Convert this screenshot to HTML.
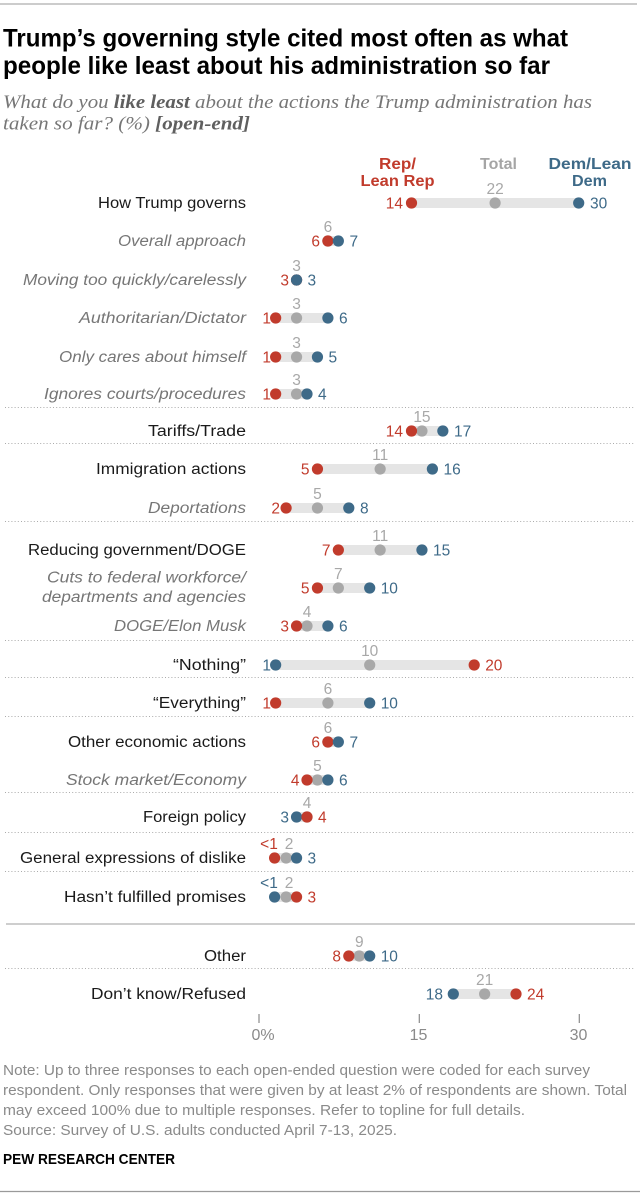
<!DOCTYPE html>
<html>
<head>
<meta charset="utf-8">
<style>
html,body{margin:0;padding:0;background:#fff;}
svg{display:block;}
.lab{font-family:"Liberation Sans",sans-serif;font-size:15.5px;fill:#1a1a1a;}
.sub{font-family:"Liberation Sans",sans-serif;font-size:15.5px;font-style:italic;fill:#767676;}
.num{font-family:"Liberation Sans",sans-serif;font-size:15.5px;}
.r{fill:#c13b2c;}
.b{fill:#3e6a88;}
.g{fill:#a8a8a8;}
.hd{font-family:"Liberation Sans",sans-serif;font-size:16px;font-weight:bold;}
.note{font-family:"Liberation Sans",sans-serif;font-size:14.5px;fill:#8a8a8a;}
.ax{font-family:"Liberation Sans",sans-serif;font-size:16px;fill:#8a8a8a;}
</style>
</head>
<body>
<svg width="640" height="1194" viewBox="0 0 640 1194" xmlns="http://www.w3.org/2000/svg">
<rect width="640" height="1194" fill="#fff"/>
<line x1="0" y1="4" x2="637" y2="4" stroke="#cccccc" stroke-width="2"/>

<!-- Title -->
<text x="3" y="46.5" font-family="Liberation Sans, sans-serif" font-size="25" font-weight="bold" fill="#000" textLength="565" lengthAdjust="spacingAndGlyphs">Trump’s governing style cited most often as what</text>
<text x="3" y="74" font-family="Liberation Sans, sans-serif" font-size="25" font-weight="bold" fill="#000" textLength="547" lengthAdjust="spacingAndGlyphs">people like least about his administration so far</text>

<!-- Subtitle -->
<text x="3" y="108" font-family="Liberation Serif, serif" font-size="18.5" font-style="italic" fill="#767676" textLength="589" lengthAdjust="spacingAndGlyphs">What do you <tspan font-weight="bold" fill="#5f5f5f">like least</tspan> about the actions the Trump administration has</text>
<text x="3" y="129.5" font-family="Liberation Serif, serif" font-size="18.5" font-style="italic" fill="#767676" textLength="247" lengthAdjust="spacingAndGlyphs">taken so far? (%) <tspan font-weight="bold" fill="#5f5f5f">[open-end]</tspan></text>

<!-- Headers -->
<text class="hd r" x="397.5" y="169" text-anchor="middle" textLength="37" lengthAdjust="spacingAndGlyphs">Rep/</text>
<text class="hd r" x="397.5" y="186" text-anchor="middle" textLength="74" lengthAdjust="spacingAndGlyphs">Lean Rep</text>
<text class="hd g" x="498.5" y="169" text-anchor="middle" textLength="37" lengthAdjust="spacingAndGlyphs" style="fill:#a5a5a5">Total</text>
<text class="hd b" x="590" y="169" text-anchor="middle" textLength="83" lengthAdjust="spacingAndGlyphs">Dem/Lean</text>
<text class="hd b" x="589.5" y="186" text-anchor="middle" textLength="35" lengthAdjust="spacingAndGlyphs">Dem</text>

<!-- Separators -->
<g stroke="#ababab" stroke-width="1.1" stroke-dasharray="1 2.2">
<line x1="5" y1="407.5" x2="635" y2="407.5"/>
<line x1="5" y1="443.5" x2="635" y2="443.5"/>
<line x1="5" y1="521.5" x2="635" y2="521.5"/>
<line x1="5" y1="640.5" x2="635" y2="640.5"/>
<line x1="5" y1="677.5" x2="635" y2="677.5"/>
<line x1="5" y1="716.5" x2="635" y2="716.5"/>
<line x1="5" y1="792.5" x2="635" y2="792.5"/>
<line x1="5" y1="832.5" x2="635" y2="832.5"/>
<line x1="5" y1="871.5" x2="635" y2="871.5"/>
<line x1="5" y1="968.5" x2="635" y2="968.5"/>
</g>
<line x1="6" y1="924" x2="635" y2="924" stroke="#bdbdbd" stroke-width="1.5"/>

<!-- Labels -->
<g text-anchor="end">
<text class="lab" x="246" y="208" textLength="148" lengthAdjust="spacingAndGlyphs">How Trump governs</text>
<text class="sub" x="246" y="246" textLength="128" lengthAdjust="spacingAndGlyphs">Overall approach</text>
<text class="sub" x="246" y="285" textLength="223" lengthAdjust="spacingAndGlyphs">Moving too quickly/carelessly</text>
<text class="sub" x="246" y="323" textLength="167" lengthAdjust="spacingAndGlyphs">Authoritarian/Dictator</text>
<text class="sub" x="246" y="362" textLength="187" lengthAdjust="spacingAndGlyphs">Only cares about himself</text>
<text class="sub" x="246" y="399" textLength="202" lengthAdjust="spacingAndGlyphs">Ignores courts/procedures</text>
<text class="lab" x="246" y="436" textLength="98" lengthAdjust="spacingAndGlyphs">Tariffs/Trade</text>
<text class="lab" x="246" y="474" textLength="150" lengthAdjust="spacingAndGlyphs">Immigration actions</text>
<text class="sub" x="246" y="513" textLength="98" lengthAdjust="spacingAndGlyphs">Deportations</text>
<text class="lab" x="246" y="555" textLength="218" lengthAdjust="spacingAndGlyphs">Reducing government/DOGE</text>
<text class="sub" x="246" y="582.5" textLength="199" lengthAdjust="spacingAndGlyphs">Cuts to federal workforce/</text>
<text class="sub" x="246" y="602" textLength="204" lengthAdjust="spacingAndGlyphs">departments and agencies</text>
<text class="sub" x="246" y="631" textLength="132" lengthAdjust="spacingAndGlyphs">DOGE/Elon Musk</text>
<text class="lab" x="246" y="670" textLength="73" lengthAdjust="spacingAndGlyphs">“Nothing”</text>
<text class="lab" x="246" y="708" textLength="93" lengthAdjust="spacingAndGlyphs">“Everything”</text>
<text class="lab" x="246" y="747" textLength="178" lengthAdjust="spacingAndGlyphs">Other economic actions</text>
<text class="sub" x="246" y="785" textLength="180" lengthAdjust="spacingAndGlyphs">Stock market/Economy</text>
<text class="lab" x="246" y="822" textLength="103" lengthAdjust="spacingAndGlyphs">Foreign policy</text>
<text class="lab" x="246" y="863" textLength="226" lengthAdjust="spacingAndGlyphs">General expressions of dislike</text>
<text class="lab" x="246" y="902" textLength="182" lengthAdjust="spacingAndGlyphs">Hasn’t fulfilled promises</text>
<text class="lab" x="246" y="961" textLength="42" lengthAdjust="spacingAndGlyphs">Other</text>
<text class="lab" x="246" y="999" textLength="155" lengthAdjust="spacingAndGlyphs">Don’t know/Refused</text>
</g>

<!-- Bars -->
<g fill="#e5e5e5">
<rect x="411.5" y="198" width="167.2" height="10"/>
<rect x="327.9" y="236" width="10.45" height="10"/>
<rect x="275.65" y="313" width="52.25" height="10"/>
<rect x="275.65" y="352" width="41.8" height="10"/>
<rect x="275.65" y="389" width="31.35" height="10"/>
<rect x="411.5" y="426" width="31.35" height="10"/>
<rect x="317.45" y="464" width="114.95" height="10"/>
<rect x="286.1" y="503" width="62.7" height="10"/>
<rect x="338.35" y="545" width="83.6" height="10"/>
<rect x="317.45" y="583" width="52.25" height="10"/>
<rect x="296.55" y="621" width="31.35" height="10"/>
<rect x="275.65" y="660" width="198.55" height="10"/>
<rect x="275.65" y="698" width="94.05" height="10"/>
<rect x="327.9" y="737" width="10.45" height="10"/>
<rect x="307" y="775" width="20.9" height="10"/>
<rect x="296.55" y="812" width="10.45" height="10"/>
<rect x="274.6" y="853" width="21.95" height="10"/>
<rect x="274.6" y="892" width="21.95" height="10"/>
<rect x="348.8" y="951" width="20.9" height="10"/>
<rect x="453.3" y="989" width="62.7" height="10"/>
</g>

<!-- Dots: gray first -->
<g fill="#a8a8a8">
<circle cx="495.1" cy="203" r="5.6"/>
<circle cx="327.9" cy="241" r="5.6"/>
<circle cx="296.55" cy="280" r="5.6"/>
<circle cx="296.55" cy="318" r="5.6"/>
<circle cx="296.55" cy="357" r="5.6"/>
<circle cx="296.55" cy="394" r="5.6"/>
<circle cx="421.95" cy="431" r="5.6"/>
<circle cx="380.15" cy="469" r="5.6"/>
<circle cx="317.45" cy="508" r="5.6"/>
<circle cx="380.15" cy="550" r="5.6"/>
<circle cx="338.35" cy="588" r="5.6"/>
<circle cx="307" cy="626" r="5.6"/>
<circle cx="369.7" cy="665" r="5.6"/>
<circle cx="327.9" cy="703" r="5.6"/>
<circle cx="327.9" cy="742" r="5.6"/>
<circle cx="317.45" cy="780" r="5.6"/>
<circle cx="307" cy="817" r="5.6"/>
<circle cx="286.1" cy="858" r="5.6"/>
<circle cx="286.1" cy="897" r="5.6"/>
<circle cx="359.25" cy="956" r="5.6"/>
<circle cx="484.65" cy="994" r="5.6"/>
</g>
<!-- Rep dots -->
<g fill="#c13b2c">
<circle cx="411.5" cy="203" r="5.6"/>
<circle cx="327.9" cy="241" r="5.6"/>
<circle cx="296.55" cy="280" r="5.6"/>
<circle cx="275.65" cy="318" r="5.6"/>
<circle cx="275.65" cy="357" r="5.6"/>
<circle cx="275.65" cy="394" r="5.6"/>
<circle cx="411.5" cy="431" r="5.6"/>
<circle cx="317.45" cy="469" r="5.6"/>
<circle cx="286.1" cy="508" r="5.6"/>
<circle cx="338.35" cy="550" r="5.6"/>
<circle cx="317.45" cy="588" r="5.6"/>
<circle cx="296.55" cy="626" r="5.6"/>
<circle cx="474.2" cy="665" r="5.6"/>
<circle cx="275.65" cy="703" r="5.6"/>
<circle cx="327.9" cy="742" r="5.6"/>
<circle cx="307" cy="780" r="5.6"/>
<circle cx="274.6" cy="858" r="5.6"/>
<circle cx="296.55" cy="897" r="5.6"/>
<circle cx="348.8" cy="956" r="5.6"/>
<circle cx="516" cy="994" r="5.6"/>
</g>
<!-- Dem dots -->
<g fill="#3e6a88">
<circle cx="578.7" cy="203" r="5.6"/>
<circle cx="338.35" cy="241" r="5.6"/>
<circle cx="296.55" cy="280" r="5.6"/>
<circle cx="327.9" cy="318" r="5.6"/>
<circle cx="317.45" cy="357" r="5.6"/>
<circle cx="307" cy="394" r="5.6"/>
<circle cx="442.85" cy="431" r="5.6"/>
<circle cx="432.4" cy="469" r="5.6"/>
<circle cx="348.8" cy="508" r="5.6"/>
<circle cx="421.95" cy="550" r="5.6"/>
<circle cx="369.7" cy="588" r="5.6"/>
<circle cx="327.9" cy="626" r="5.6"/>
<circle cx="275.65" cy="665" r="5.6"/>
<circle cx="369.7" cy="703" r="5.6"/>
<circle cx="338.35" cy="742" r="5.6"/>
<circle cx="327.9" cy="780" r="5.6"/>
<circle cx="296.55" cy="817" r="5.6"/>
<circle cx="296.55" cy="858" r="5.6"/>
<circle cx="274.6" cy="897" r="5.6"/>
<circle cx="369.7" cy="956" r="5.6"/>
<circle cx="453.3" cy="994" r="5.6"/>
</g>
<circle cx="307" cy="817" r="5.6" fill="#c13b2c"/>

<!-- Left value labels -->
<g class="num" text-anchor="end">
<text class="r" x="403" y="208.5">14</text>
<text class="r" x="320" y="246.5">6</text>
<text class="r" x="289" y="285.5">3</text>
<text class="r" x="271" y="323.5">1</text>
<text class="r" x="271" y="362.5">1</text>
<text class="r" x="271" y="399.5">1</text>
<text class="r" x="403" y="436.5">14</text>
<text class="r" x="309.5" y="474.5">5</text>
<text class="r" x="280" y="513.5">2</text>
<text class="r" x="330.5" y="555.5">7</text>
<text class="r" x="309.5" y="593.5">5</text>
<text class="r" x="289" y="631.5">3</text>
<text class="b" x="271" y="670.5">1</text>
<text class="r" x="271" y="708.5">1</text>
<text class="r" x="320" y="747.5">6</text>
<text class="r" x="299.5" y="785.5">4</text>
<text class="b" x="289" y="822.5">3</text>
<text class="r" x="341" y="961.5">8</text>
<text class="b" x="443" y="999.5">18</text>
</g>
<!-- Right value labels -->
<g class="num">
<text class="b" x="590" y="208.5">30</text>
<text class="b" x="349.5" y="246.5">7</text>
<text class="b" x="307.5" y="285.5">3</text>
<text class="b" x="339" y="323.5">6</text>
<text class="b" x="328.5" y="362.5">5</text>
<text class="b" x="318" y="399.5">4</text>
<text class="b" x="454" y="436.5">17</text>
<text class="b" x="443.5" y="474.5">16</text>
<text class="b" x="360" y="513.5">8</text>
<text class="b" x="433" y="555.5">15</text>
<text class="b" x="380.7" y="593.5">10</text>
<text class="b" x="339" y="631.5">6</text>
<text class="r" x="485.2" y="670.5">20</text>
<text class="b" x="380.7" y="708.5">10</text>
<text class="b" x="349.5" y="747.5">7</text>
<text class="b" x="339" y="785.5">6</text>
<text class="r" x="318" y="822.5">4</text>
<text class="b" x="307.5" y="863.5">3</text>
<text class="r" x="307.5" y="902.5">3</text>
<text class="b" x="380.7" y="961.5">10</text>
<text class="r" x="527" y="999.5">24</text>
</g>
<!-- Total labels -->
<g class="num g" text-anchor="middle" style="fill:#a8a8a8">
<text x="495.1" y="194">22</text>
<text x="327.9" y="232">6</text>
<text x="296.55" y="271">3</text>
<text x="296.55" y="309">3</text>
<text x="296.55" y="348">3</text>
<text x="296.55" y="385">3</text>
<text x="421.95" y="422">15</text>
<text x="380.15" y="460">11</text>
<text x="317.45" y="499">5</text>
<text x="380.15" y="541">11</text>
<text x="338.35" y="579">7</text>
<text x="307" y="617">4</text>
<text x="369.7" y="656">10</text>
<text x="327.9" y="694">6</text>
<text x="327.9" y="733">6</text>
<text x="317.45" y="771">5</text>
<text x="307" y="808">4</text>
<text x="289" y="849">2</text>
<text x="289" y="888">2</text>
<text x="359.25" y="947">9</text>
<text x="484.65" y="985">21</text>
</g>
<text class="num r" x="269" y="849" text-anchor="middle">&lt;1</text>
<text class="num b" x="269" y="888" text-anchor="middle">&lt;1</text>

<!-- Axis -->
<g stroke="#8a8a8a" stroke-width="1.2">
<line x1="259" y1="1014" x2="259" y2="1023"/>
<line x1="419.3" y1="1014" x2="419.3" y2="1023"/>
<line x1="579.3" y1="1014" x2="579.3" y2="1023"/>
</g>
<text class="ax" x="263" y="1040" text-anchor="middle">0%</text>
<text class="ax" x="418.5" y="1040" text-anchor="middle">15</text>
<text class="ax" x="578.5" y="1040" text-anchor="middle">30</text>

<!-- Notes -->
<text class="note" x="3" y="1075" textLength="587" lengthAdjust="spacingAndGlyphs">Note: Up to three responses to each open-ended question were coded for each survey</text>
<text class="note" x="3" y="1095" textLength="624" lengthAdjust="spacingAndGlyphs">respondent. Only responses that were given by at least 2% of respondents are shown. Total</text>
<text class="note" x="3" y="1115" textLength="522" lengthAdjust="spacingAndGlyphs">may exceed 100% due to multiple responses. Refer to topline for full details.</text>
<text class="note" x="3" y="1135" textLength="394" lengthAdjust="spacingAndGlyphs">Source: Survey of U.S. adults conducted April 7-13, 2025.</text>
<text x="3" y="1164" font-family="Liberation Sans, sans-serif" font-size="15" font-weight="bold" fill="#000" textLength="172" lengthAdjust="spacingAndGlyphs">PEW RESEARCH CENTER</text>
<line x1="0" y1="1191.5" x2="640" y2="1191.5" stroke="#9a9a9a" stroke-width="1.2"/>
</svg>
</body>
</html>
